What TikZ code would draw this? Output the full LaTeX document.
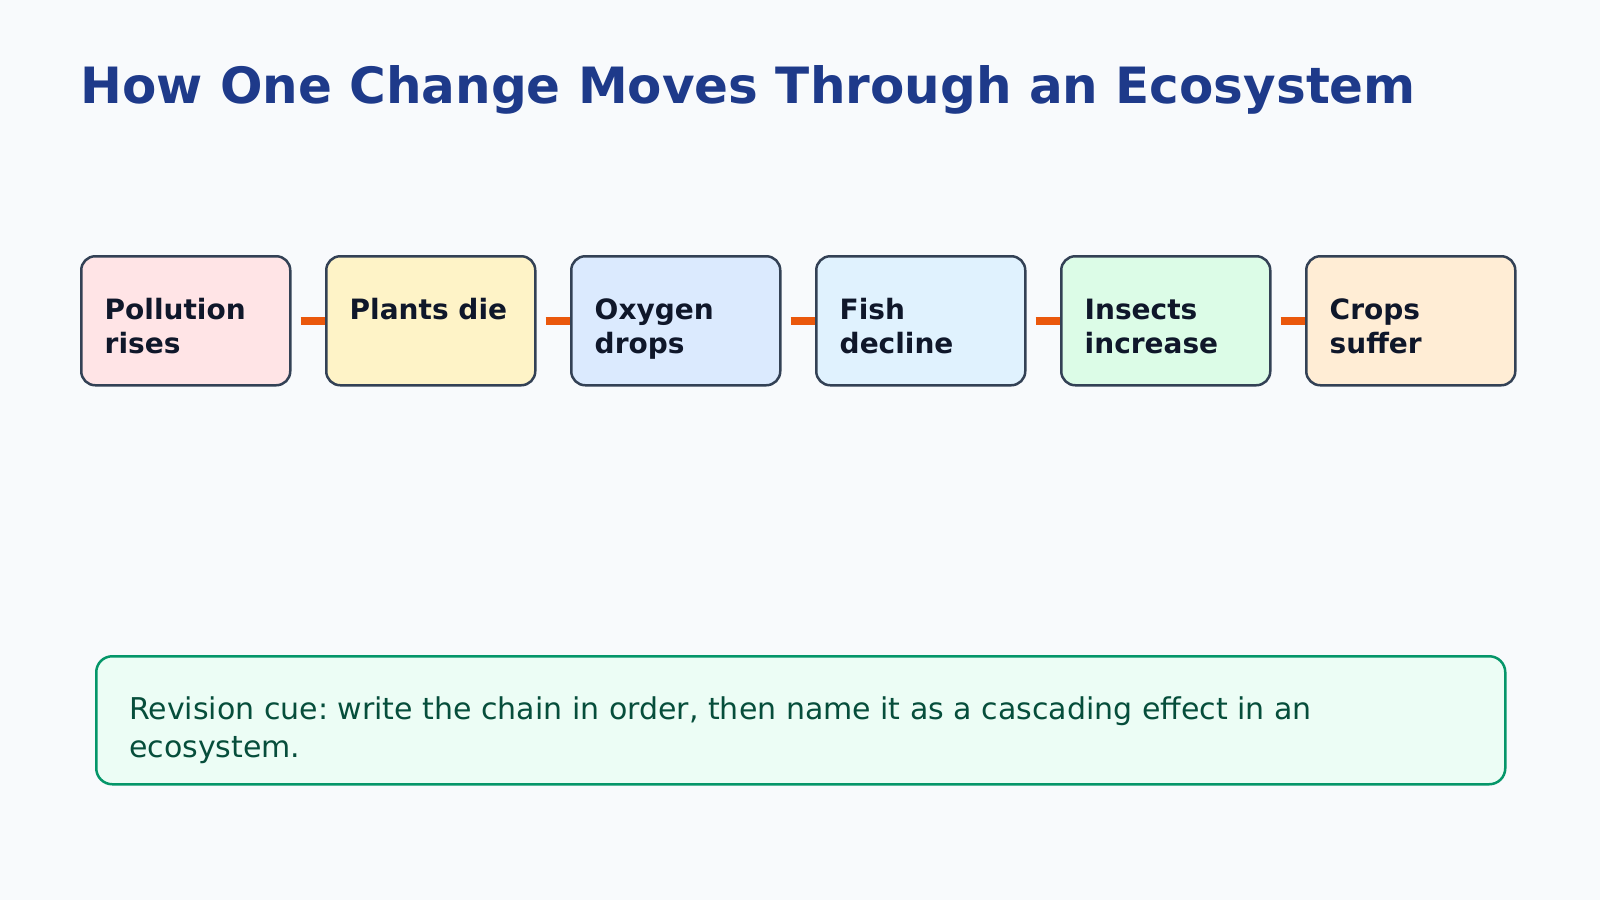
\documentclass[tikz,border=0pt]{standalone}
\usepackage{fontspec}
\setmainfont{DejaVu Sans}
\frenchspacing
\definecolor{bgc}{HTML}{F8FAFC}
\definecolor{titlec}{HTML}{1E3A8A}
\definecolor{edgec}{HTML}{334155}
\definecolor{txtc}{HTML}{0F172A}
\definecolor{linkc}{HTML}{EA580C}
\definecolor{f1}{HTML}{FFE4E6}
\definecolor{f2}{HTML}{FEF3C7}
\definecolor{f3}{HTML}{DBEAFE}
\definecolor{f4}{HTML}{E0F2FE}
\definecolor{f5}{HTML}{DCFCE7}
\definecolor{f6}{HTML}{FFEDD5}
\definecolor{notefill}{HTML}{ECFDF5}
\definecolor{noteedge}{HTML}{059669}
\definecolor{notetxt}{HTML}{064E3B}
\begin{document}
\begin{tikzpicture}[x=1pt,y=-1pt,
  stepbox/.style={draw=edgec, line width=2.5pt, rounded corners=14pt, minimum width=209pt, minimum height=129pt, inner sep=0pt, anchor=north west},
  steptext/.style={anchor=base west, inner sep=0pt, text=txtc, font=\fontsize{28}{34}\selectfont\bfseries},
  link/.style={draw=linkc, line width=8pt},
  notebox/.style={draw=noteedge, fill=notefill, line width=2.5pt, rounded corners=16pt, minimum width=1409pt, minimum height=128pt, inner sep=0pt, anchor=north west},
  notetext/.style={anchor=base west, inner sep=0pt, text=notetxt, font=\fontsize{30}{38}\selectfont}
]
\fill[bgc] (0,0) rectangle (1600,900);
\useasboundingbox (0,0) rectangle (1600,900);
\node[anchor=base west, inner sep=0pt, text=titlec, font=\fontsize{50}{60}\selectfont\bfseries] (title) at (80,103.3) {How One Change Moves Through an Ecosystem};

\node[stepbox, fill=f1] (b1) at (80,255) {};
\node[stepbox, fill=f2] (b2) at (325,255) {};
\node[stepbox, fill=f3] (b3) at (570,255) {};
\node[stepbox, fill=f4] (b4) at (815,255) {};
\node[stepbox, fill=f5] (b5) at (1060,255) {};
\node[stepbox, fill=f6] (b6) at (1305,255) {};

\node[steptext] (t1) at (104.5,319) {\vtop{\hbox{Pollution}\hbox{rises}}};
\node[steptext] (t2) at (349.5,319) {\vtop{\hbox{Plants die}}};
\node[steptext] (t3) at (594.5,319) {\vtop{\hbox{Oxygen}\hbox{drops}}};
\node[steptext] (t4) at (839.5,319) {\vtop{\hbox{Fish}\hbox{decline}}};
\node[steptext] (t5) at (1084.5,319) {\vtop{\hbox{Insects}\hbox{increase}}};
\node[steptext] (t6) at (1329.5,319) {\vtop{\hbox{Crops}\hbox{suffer}}};

\foreach \a/\b in {b1/b2,b2/b3,b3/b4,b4/b5,b5/b6}
  \draw[link] ([xshift=9pt]\a.east) -- (\b.west);

\node[notebox] (note) at (95,655) {};
\node[notetext] (nt) at (129,719) {\vtop{\hbox{Revision cue: write the chain in order, then name it as a cascading effect in an}\hbox{ecosystem.}}};
\end{tikzpicture}
\end{document}
